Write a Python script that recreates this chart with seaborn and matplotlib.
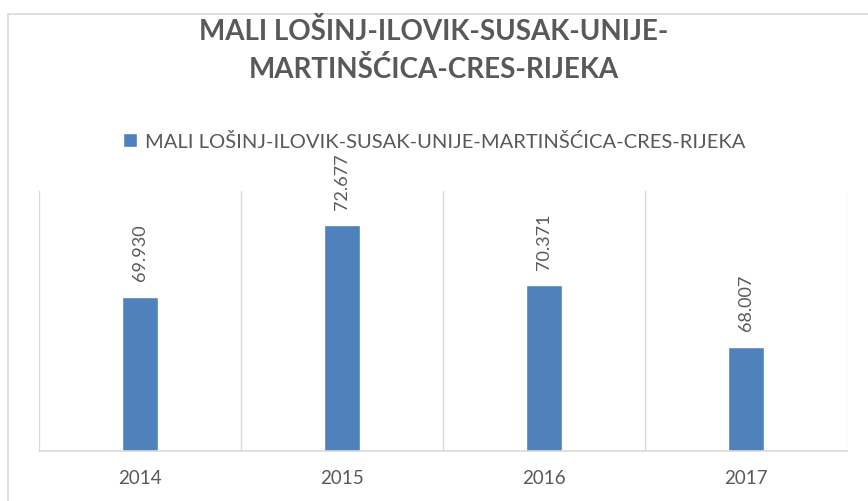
import pandas as pd
import numpy as np
import matplotlib.pyplot as plt
import seaborn as sns
from matplotlib.patches import Rectangle

years = ["2014", "2015", "2016", "2017"]
passengers = [69930, 72677, 70371, 68007]
series_name = "MALI LOŠINJ-ILOVIK-SUSAK-UNIJE-MARTINŠĆICA-CRES-RIJEKA"
title_text = "MALI LOŠINJ-ILOVIK-SUSAK-UNIJE-\nMARTINŠĆICA-CRES-RIJEKA"

df = pd.DataFrame({"Year": years, "Passengers": passengers, "Line": series_name})

sns.set_theme(style="white")
plt.rcParams["font.family"] = ["Lato", "DejaVu Sans"]

bar_color = "#4F81BD"
text_color = "#595959"
grid_color = "#D9D9D9"

fig = plt.figure(figsize=(8.68, 5.02), dpi=100)
ax = fig.add_axes([0.0449, 0.0996, 0.9309, 0.5179])

# outer chart border (like an Excel chart frame)
fig.patches.append(Rectangle((8 / 868, -0.05), 1.0, 1 - 15 / 502 + 0.05,
                             transform=fig.transFigure, fill=False,
                             edgecolor=grid_color, linewidth=1.2))

sns.barplot(data=df, x="Year", y="Passengers", hue="Line",
            palette=[bar_color], width=0.18, saturation=1, ax=ax)

ax.set_ylim(64000, 74000)
ax.set_xlim(-0.5, 3.5)
ax.set_yticks([])
ax.set_xlabel("")
ax.set_ylabel("")

# vertical separators between categories
ax.set_xticks(np.arange(-0.5, 4, 1), minor=True)
ax.grid(which="minor", axis="x", color=grid_color, linewidth=1)
ax.tick_params(axis="x", which="both", length=0, colors=text_color, labelsize=13.5, pad=13)

for side in ["top", "left", "right"]:
    ax.spines[side].set_visible(False)
ax.spines["bottom"].set_color(grid_color)
ax.spines["bottom"].set_linewidth(1.2)

# value labels above bars, rotated
for i, v in enumerate(passengers):
    label = f"{v:,}".replace(",", ".")
    ax.annotate(label, (i, v), xytext=(0, 12), textcoords="offset points",
                rotation=90, ha="center", va="bottom", fontsize=13,
                color=text_color)

fig.text(0.5, 0.9, title_text, ha="center", va="center", fontsize=20,
         fontweight="bold", color=text_color, linespacing=1.5)

handles, labels = ax.get_legend_handles_labels()
ax.legend(handles, labels, loc="center", bbox_to_anchor=(0.5, 1 - 142 / 502),
          bbox_transform=fig.transFigure, frameon=False, fontsize=14.5,
          labelcolor=text_color, handlelength=0.7, handleheight=0.7,
          handletextpad=0.4)

fig.savefig("out.png", dpi=100)
